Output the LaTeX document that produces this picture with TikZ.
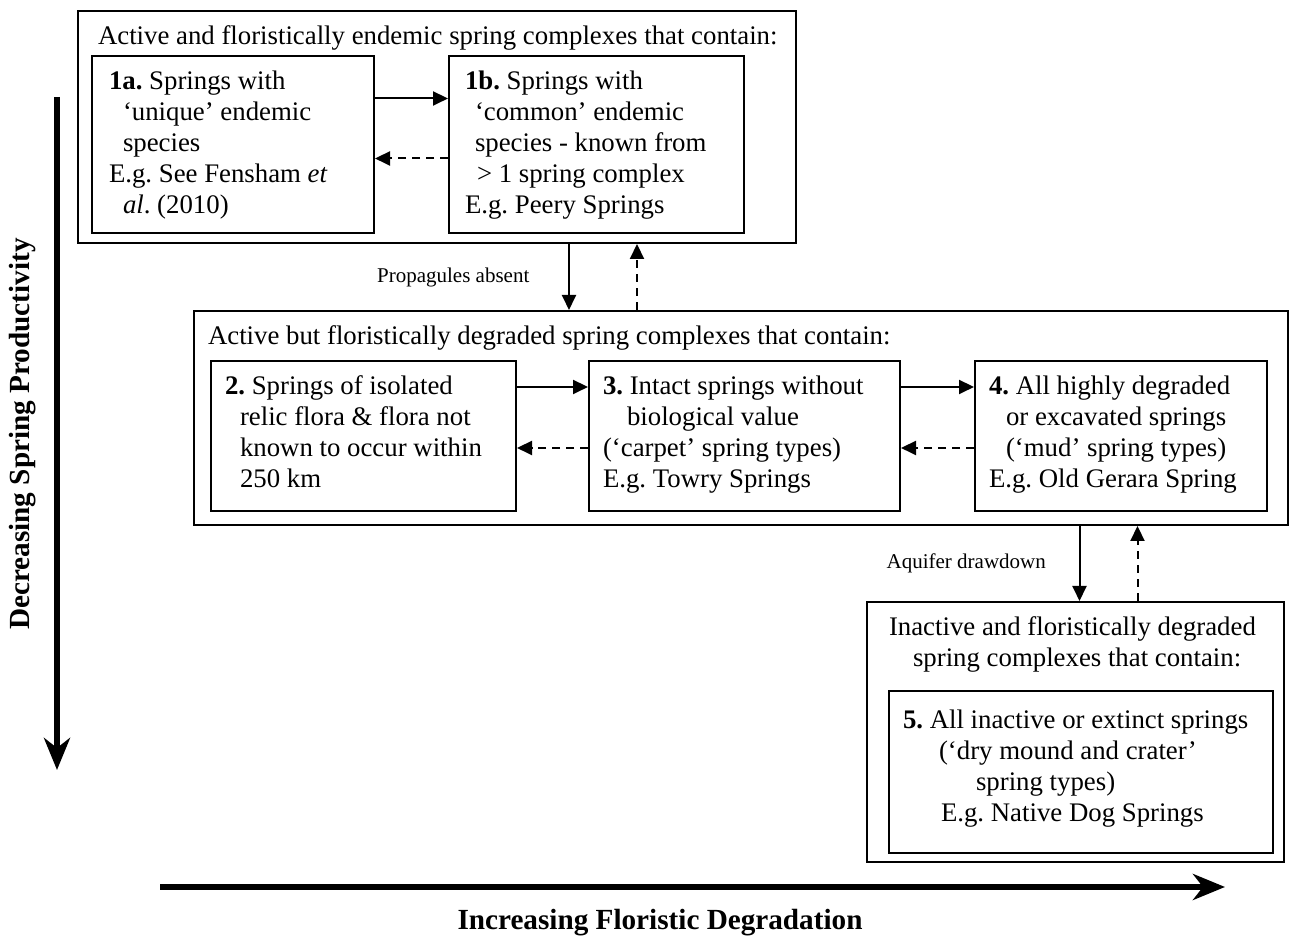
\documentclass[tikz,border=0pt]{standalone}
\usepackage{fontspec}
\setmainfont{Liberation Serif}
\usetikzlibrary{positioning, arrows.meta}

\newcommand{\boxtext}[3]{\parbox[c][#2][t]{#1}{\raggedright #3}}
\frenchspacing

\begin{document}
\begin{tikzpicture}[
    x=1pt, y=1pt,
    font=\fontsize{13.4}{15.5}\selectfont,
    group/.style={draw, line width=1pt, inner xsep=7pt, inner ysep=7.5pt, anchor=north west},
    box/.style={draw, line width=1pt, inner xsep=7pt, inner ysep=7.5pt},
    arrow/.style={-{Triangle[length=7.5pt, width=7pt]}, line width=1pt},
    dasharrow/.style={arrow, dash pattern=on 4pt off 3pt},
    bigarrow/.style={-{Stealth[length=16pt, width=13pt, inset=5pt]}, line width=3pt},
    tag/.style={font=\fontsize{10.5}{12}\selectfont},
    axislabel/.style={font=\bfseries\fontsize{14.6}{17}\selectfont, inner sep=0pt},
]
\useasboundingbox (0,0) rectangle (646,470);

% Nodes
\node[group] (grp1) at (38.5,465) {\boxtext{345pt}{101pt}{\hspace*{3pt}Active and floristically endemic spring complexes that contain:}};
\node[box, below right=22.5pt and 7pt of grp1.north west] (s1a) {\boxtext{127pt}{73.5pt}{\hspace*{1.5pt}\textbf{1a.} Springs with\\\hspace*{8.5pt}‘unique’ endemic\\\hspace*{8.5pt}species\\\hspace*{1.5pt}E.g. See Fensham \textit{et}\\\hspace*{8.5pt}\textit{al}. (2010)}};
\node[box, right=36.5pt of s1a] (s1b) {\boxtext{133.5pt}{73.5pt}{\hspace*{1pt}\textbf{1b.} Springs with\\\hspace*{6pt}‘common’ endemic\\\hspace*{6pt}species - known from\\\hspace*{7pt}> 1 spring complex\\\hspace*{1pt}E.g. Peery Springs}};

\node[group, below right=33pt and 58pt of grp1.south west] (grp2) {\boxtext{533pt}{92pt}{Active but floristically degraded spring complexes that contain:}};
\node[box, below right=25pt and 8.5pt of grp2.north west] (s2) {\boxtext{138.5pt}{60pt}{\textbf{2.} Springs of isolated\\\hspace*{7.5pt}relic flora \& flora not\\\hspace*{7.5pt}known to occur within\\\hspace*{7.5pt}250 km}};
\node[box, right=35.5pt of s2] (s3) {\boxtext{141.5pt}{60pt}{\textbf{3.} Intact springs without\\\hspace*{12pt}biological value\\(‘carpet’ spring types)\\E.g. Towry Springs}};
\node[box, right=36.5pt of s3] (s4) {\boxtext{132pt}{60pt}{\textbf{4.} All highly degraded\\\hspace*{8.5pt}or excavated springs\\\hspace*{8.5pt}(‘mud’ spring types)\\E.g. Old Gerara Spring}};

\node[group, below left=37.5pt and 2pt of grp2.south east, anchor=north east] (grp3) {\boxtext{194.5pt}{115pt}{\hspace*{4pt}Inactive and floristically degraded\\\hspace*{16pt}spring complexes that contain:}};
\node[box, below right=44.5pt and 11pt of grp3.north west] (s5) {\boxtext{178pt}{66pt}{\vspace*{2pt}\textbf{5.} All inactive or extinct springs\\\hspace*{18pt}(‘dry mound and crater’\\\hspace*{36.5pt}spring types)\\\hspace*{19pt}E.g. Native Dog Springs}};

% Axes
\coordinate (prodtop) at (28.5,421.5);
\coordinate (prodend) at (28.5,85);
\coordinate (degrstart) at (80,26.5);
\coordinate (degrend) at (612.5,26.5);
\node[axislabel, rotate=90, anchor=south] (prodlabel) at (18,253) {Decreasing Spring Productivity};
\node[axislabel] (degrlabel) at (330,8.5) {Increasing Floristic Degradation};

% Arrows between nodes
\draw[arrow] ([yshift=23pt]s1a.east) -- ([yshift=23pt]s1b.west);
\draw[dasharrow] ([yshift=-7pt]s1b.west) -- ([yshift=-7pt]s1a.east);

\draw[arrow] ([yshift=24.5pt]s2.east) -- ([yshift=24.5pt]s3.west);
\draw[dasharrow] ([yshift=-6pt]s3.west) -- ([yshift=-6pt]s2.east);
\draw[arrow] ([yshift=24.5pt]s3.east) -- ([yshift=24.5pt]s4.west);
\draw[dasharrow] ([yshift=-6pt]s4.west) -- ([yshift=-6pt]s3.east);

\draw[arrow] ([xshift=66pt]grp1.south) -- ([xshift=66pt]grp1.south |- grp2.north) node[midway, left=16pt, tag] {Propagules absent};
\draw[dasharrow] ([xshift=100pt]grp1.south |- grp2.north) -- ([xshift=100pt]grp1.south);

\draw[arrow] ([xshift=2pt]grp3.north |- grp2.south) -- ([xshift=2pt]grp3.north) node[midway, left=13pt, tag] {Aquifer drawdown};
\draw[dasharrow] ([xshift=31pt]grp3.north) -- ([xshift=31pt]grp3.north |- grp2.south);

\draw[bigarrow] (prodtop) -- (prodend);
\draw[bigarrow] (degrstart) -- (degrend);

\end{tikzpicture}
\end{document}
